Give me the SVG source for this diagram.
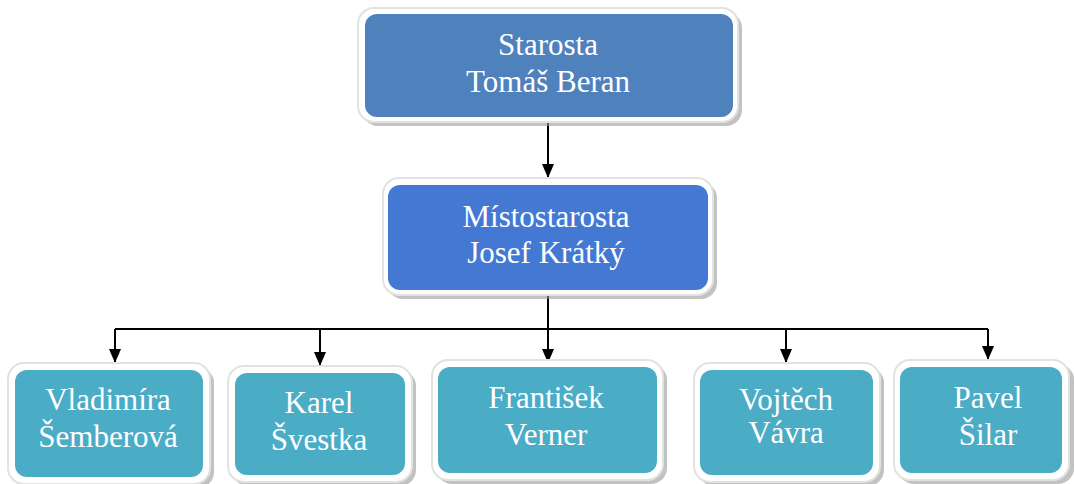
<svg xmlns="http://www.w3.org/2000/svg" width="1075" height="484" viewBox="0 0 1075 484">
<style>
.sh{fill:#9a9a9a;opacity:0.6}
.fr{fill:#ffffff;stroke:#e2e2e2;stroke-width:2}
.t1{fill:#4f81bd}
.t2{fill:#4479d3}
.t3{fill:#4bacc6}
.lb{font-family:'Liberation Serif', 'DejaVu Serif', serif;font-size:31px;fill:#ffffff;text-anchor:middle}
.cn{stroke:#000;stroke-width:2;fill:none}
</style>
<defs>
<marker id="ah" markerUnits="userSpaceOnUse" markerWidth="14" markerHeight="14" viewBox="0 0 14 14" refX="14" refY="7" orient="auto">
<path d="M0,1 L14,7 L0,13 Z" fill="#000"/>
</marker>
</defs>
<g id="connectors">
<path class="cn" d="M548,122 V178" marker-end="url(#ah)"/>
<path class="cn" d="M548,295 V363" marker-end="url(#ah)"/>
<path class="cn" d="M115,329 H988"/>
<path class="cn" d="M115,329 V363" marker-end="url(#ah)"/>
<path class="cn" d="M320,329 V366" marker-end="url(#ah)"/>
<path class="cn" d="M786,329 V363" marker-end="url(#ah)"/>
<path class="cn" d="M988,329 V360" marker-end="url(#ah)"/>
</g>
<g id="starosta">
<rect class="sh" x="362" y="12" width="380" height="114" rx="16"/>
<rect class="fr" x="358" y="8" width="380" height="114" rx="16"/>
<rect class="t1" x="365" y="14" width="368" height="103" rx="12"/>
<text class="lb" x="548" y="55">Starosta</text>
<text class="lb" x="548" y="92">Tomáš Beran</text>
</g>
<g id="mistostarosta">
<rect class="sh" x="387" y="182" width="330" height="117" rx="16"/>
<rect class="fr" x="383" y="178" width="330" height="117" rx="16"/>
<rect class="t2" x="388" y="185" width="320" height="105" rx="12"/>
<text class="lb" x="546" y="227">Místostarosta</text>
<text class="lb" x="546" y="263">Josef Krátký</text>
</g>
<g id="semberova">
<rect class="sh" x="12" y="367" width="202" height="121" rx="16"/>
<rect class="fr" x="8" y="363" width="202" height="121" rx="16"/>
<rect class="t3" x="15" y="370" width="188" height="107" rx="12"/>
<text class="lb" x="108" y="410">Vladimíra</text>
<text class="lb" x="108" y="447">Šemberová</text>
</g>
<g id="svestka">
<rect class="sh" x="232" y="370" width="184" height="116" rx="16"/>
<rect class="fr" x="228" y="366" width="184" height="116" rx="16"/>
<rect class="t3" x="235" y="373" width="170" height="102" rx="12"/>
<text class="lb" x="319" y="413">Karel</text>
<text class="lb" x="319" y="450">Švestka</text>
</g>
<g id="verner">
<rect class="sh" x="436" y="364" width="231" height="120" rx="16"/>
<rect class="fr" x="432" y="360" width="231" height="120" rx="16"/>
<rect class="t3" x="438" y="367" width="219" height="106" rx="12"/>
<text class="lb" x="546" y="408">František</text>
<text class="lb" x="546" y="445">Verner</text>
</g>
<g id="vavra">
<rect class="sh" x="698" y="367" width="186" height="119" rx="16"/>
<rect class="fr" x="694" y="363" width="186" height="119" rx="16"/>
<rect class="t3" x="700" y="370" width="173" height="105" rx="12"/>
<text class="lb" x="786" y="410">Vojtěch</text>
<text class="lb" x="786" y="443">Vávra</text>
</g>
<g id="silar">
<rect class="sh" x="898" y="364" width="176" height="120" rx="16"/>
<rect class="fr" x="894" y="360" width="175" height="120" rx="16"/>
<rect class="t3" x="900" y="367" width="162" height="106" rx="12"/>
<text class="lb" x="988" y="408">Pavel</text>
<text class="lb" x="988" y="445">Šilar</text>
</g>
</svg>
